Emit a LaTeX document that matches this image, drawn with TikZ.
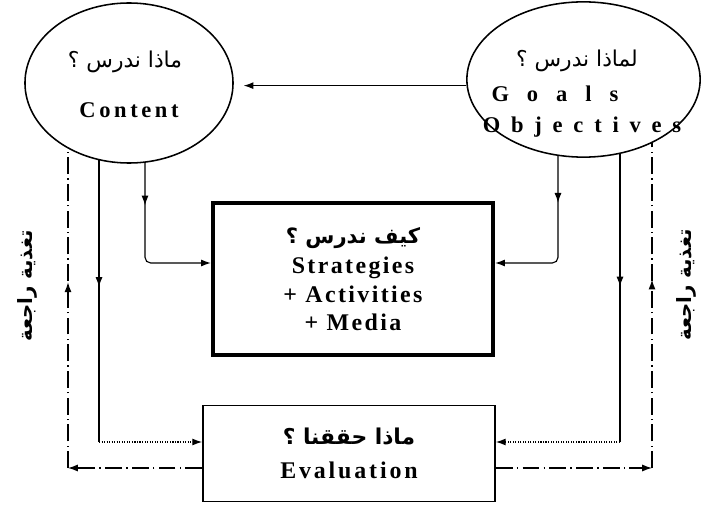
\documentclass[tikz,border=0pt]{standalone}
\usepackage{fontspec}
\setmainfont{Liberation Serif}
\newfontfamily\arabicfont[Script=Arabic]{DejaVu Sans}
\TeXXeTstate=1
\usetikzlibrary{arrows.meta}
\usetikzlibrary{calc,decorations.markings}
\usetikzlibrary{shapes.geometric}

\begin{document}
\begin{tikzpicture}[>={Latex[length=7pt,width=5pt]}, x=0.025cm, y=-0.025cm,
		oval/.style={draw, ellipse, line width=1.1pt, inner sep=0pt},
		word/.style={anchor=base, font=\bfseries\fontsize{16}{18}\selectfont},
		arword/.style={anchor=base, font=\arabicfont\fontsize{15.5}{17}\selectfont},
		midarrow/.style={postaction={decorate}, decoration={markings, mark=at position #1 with {\arrow{>}}}},
		feedback/.style={dash pattern=on 12pt off 3pt on 1pt off 3pt}]
			\useasboundingbox (0,0) rectangle (705,505);
			
			% Draw the two ovals
			\node[oval, minimum width=5.2cm, minimum height=4cm] (Content) at (129,83) {};
			\node[oval, minimum width=5.83cm, minimum height=3.88cm] (Goals) at (583.5,79.5) {};
			\node[arword] (contentAr) at (125,68) {\beginR ماذا ندرس ؟\endR};
			\node[word] (contentEn) at (129,118) {\addfontfeature{LetterSpace=16}Content};
			\node[arword] (goalsAr) at (577,67) {\beginR لماذا ندرس ؟\endR};
			\node[word] (goalsEn) at (555,102) {\addfontfeature{LetterSpace=80}Goals};
			\node[word] (objectivesEn) at (582,133) {\addfontfeature{LetterSpace=48}Objectives};
			
			% Draw the boxes
			\node[draw, line width=3pt, minimum width=7cm, minimum height=3.8cm, align=center,
				font=\bfseries\fontsize{17}{20.2}\selectfont\addfontfeature{LetterSpace=10}] (Strategies) at (353,279)
				{{\arabicfont\bfseries\fontsize{15}{18}\selectfont\beginR كيف ندرس ؟\endR}\\[1.8pt] Strategies\\ + Activities\\ + Media};
			\node[draw, line width=1.2pt, minimum width=7.3cm, minimum height=2.4cm, align=center,
				font=\bfseries\fontsize{17}{20}\selectfont\addfontfeature{LetterSpace=12}] (Evaluation) at (349,453.5)
				{{\arabicfont\bfseries\fontsize{15.5}{16}\selectfont\beginR ماذا حققنا ؟\endR}\\[4pt] Evaluation};
			
			% Draw the side labels
			\node[rotate=90, font=\arabicfont\bfseries\fontsize{14}{16}\selectfont] (fbLeft) at (27,286) {\beginR تغذية راجعة\endR};
			\node[rotate=90, font=\arabicfont\bfseries\fontsize{14}{16}\selectfont] (fbRight) at (686,285) {\beginR تغذية راجعة\endR};
			
			% Goals to content
			\draw[->, thick, shorten >=7pt] (Goals.183) -- (Goals.183 -| Content.east);
			
			% Ovals to the strategies box
			\coordinate (lin) at (145,263);
			\coordinate (rin) at (558,263);
			\draw[->, thick, rounded corners=4pt, midarrow=0.26] (lin |- Content.281.4) -- (lin) -- (Strategies.west |- lin);
			\draw[->, thick, rounded corners=4pt, midarrow=0.28] (rin |- Goals.251.4) -- (rin) -- (Strategies.east |- rin);
			
			% Ovals to the evaluation box
			\coordinate (lout) at (99,442);
			\coordinate (rout) at (620,442);
			\draw[thick, midarrow=0.45] (lout |- Content.248.6) -- (lout);
			\draw[->, thick, densely dotted] (lout) -- (Evaluation.west |- lout);
			\draw[thick, midarrow=0.46] (rout |- Goals.296.4) -- (rout);
			\draw[->, thick, densely dotted] (rout) -- (Evaluation.east |- rout);
			
			% Feedback lines
			\coordinate (lfb) at (68,468);
			\coordinate (rfb) at (652,468);
			\draw[->, thick, feedback] (Evaluation.west |- lfb) -- (lfb);
			\draw[thick, feedback, midarrow=0.58] (lfb) -- (lfb |- Content.226.8);
			\draw[->, thick, feedback] (Evaluation.east |- rfb) -- (rfb);
			\draw[thick, feedback, midarrow=0.58] (rfb) -- (rfb |- Goals.317.5);
			
		\end{tikzpicture}
\end{document}
